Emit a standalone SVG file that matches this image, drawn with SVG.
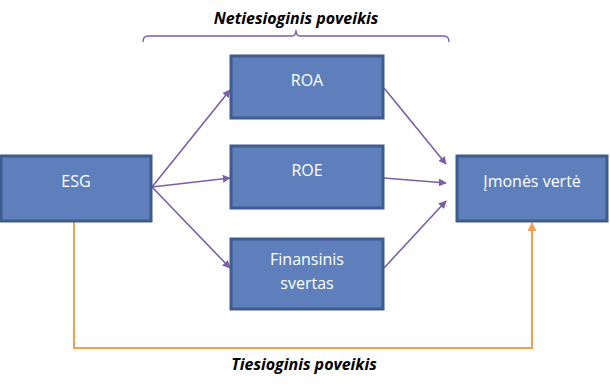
<svg xmlns="http://www.w3.org/2000/svg" width="610" height="391" viewBox="0 0 610 391">
<defs>
<style>
.box{fill:#5E7FBC;stroke:#3F5C8E;stroke-width:3}
.lbl{font-family:"Open Sans","Liberation Sans",sans-serif;font-size:16px;fill:#fff;text-anchor:middle}
.cap{font-family:"Open Sans","Liberation Sans",sans-serif;font-size:16px;font-weight:bold;font-style:italic;fill:#000;text-anchor:middle}
.pl{stroke:#7A5FA6;stroke-width:1.6;fill:none}
.ol{stroke:#F0A050;stroke-width:2;fill:none}
</style>
<marker id="ap" viewBox="0 0 10 10" refX="9" refY="5" markerWidth="8" markerHeight="8" orient="auto" markerUnits="userSpaceOnUse"><path d="M0,0 L10,5 L0,10 z" fill="#7A5FA6"/></marker>
<marker id="ao" viewBox="0 0 10 10" refX="9" refY="5" markerWidth="9" markerHeight="9" orient="auto" markerUnits="userSpaceOnUse"><path d="M0,0 L10,5 L0,10 z" fill="#F0A050"/></marker>
</defs>
<g id="connectors">
<line class="pl" x1="152" y1="187" x2="230" y2="90" marker-end="url(#ap)"/>
<line class="pl" x1="152" y1="187" x2="230" y2="178" marker-end="url(#ap)"/>
<line class="pl" x1="152" y1="187" x2="230" y2="268" marker-end="url(#ap)"/>
<line class="pl" x1="384" y1="88" x2="446" y2="164" marker-end="url(#ap)"/>
<line class="pl" x1="384" y1="178" x2="446" y2="183" marker-end="url(#ap)"/>
<line class="pl" x1="384" y1="268" x2="446" y2="201" marker-end="url(#ap)"/>
<polyline class="ol" points="74,222 74,348 532,348 532,223" marker-end="url(#ao)"/>
</g>
<g id="brace">
<path d="M143,42 Q143,36 148,36 L292,36 Q296,36 296,30 Q296,36 300,36 L444,36 Q449,36 449,42" fill="none" stroke="#7A5FA6" stroke-width="1.4"/>
<text class="cap" x="296" y="24">Netiesioginis poveikis</text>
</g>
<g id="esg"><rect class="box" x="1" y="156" width="150" height="65"/><text class="lbl" x="76" y="187">ESG</text></g>
<g id="roa"><rect class="box" x="231" y="56" width="152" height="62"/><text class="lbl" x="307" y="86">ROA</text></g>
<g id="roe"><rect class="box" x="231" y="146" width="152" height="62"/><text class="lbl" x="307" y="176">ROE</text></g>
<g id="fin"><rect class="box" x="231" y="239" width="152" height="70"/><text class="lbl" x="307" y="265">Finansinis</text><text class="lbl" x="307" y="289">svertas</text></g>
<g id="imones"><rect class="box" x="457" y="156" width="150" height="65"/><text class="lbl" x="532" y="187">Įmonės vertė</text></g>
<g id="direct"><text class="cap" x="304" y="370">Tiesioginis poveikis</text></g>
</svg>
